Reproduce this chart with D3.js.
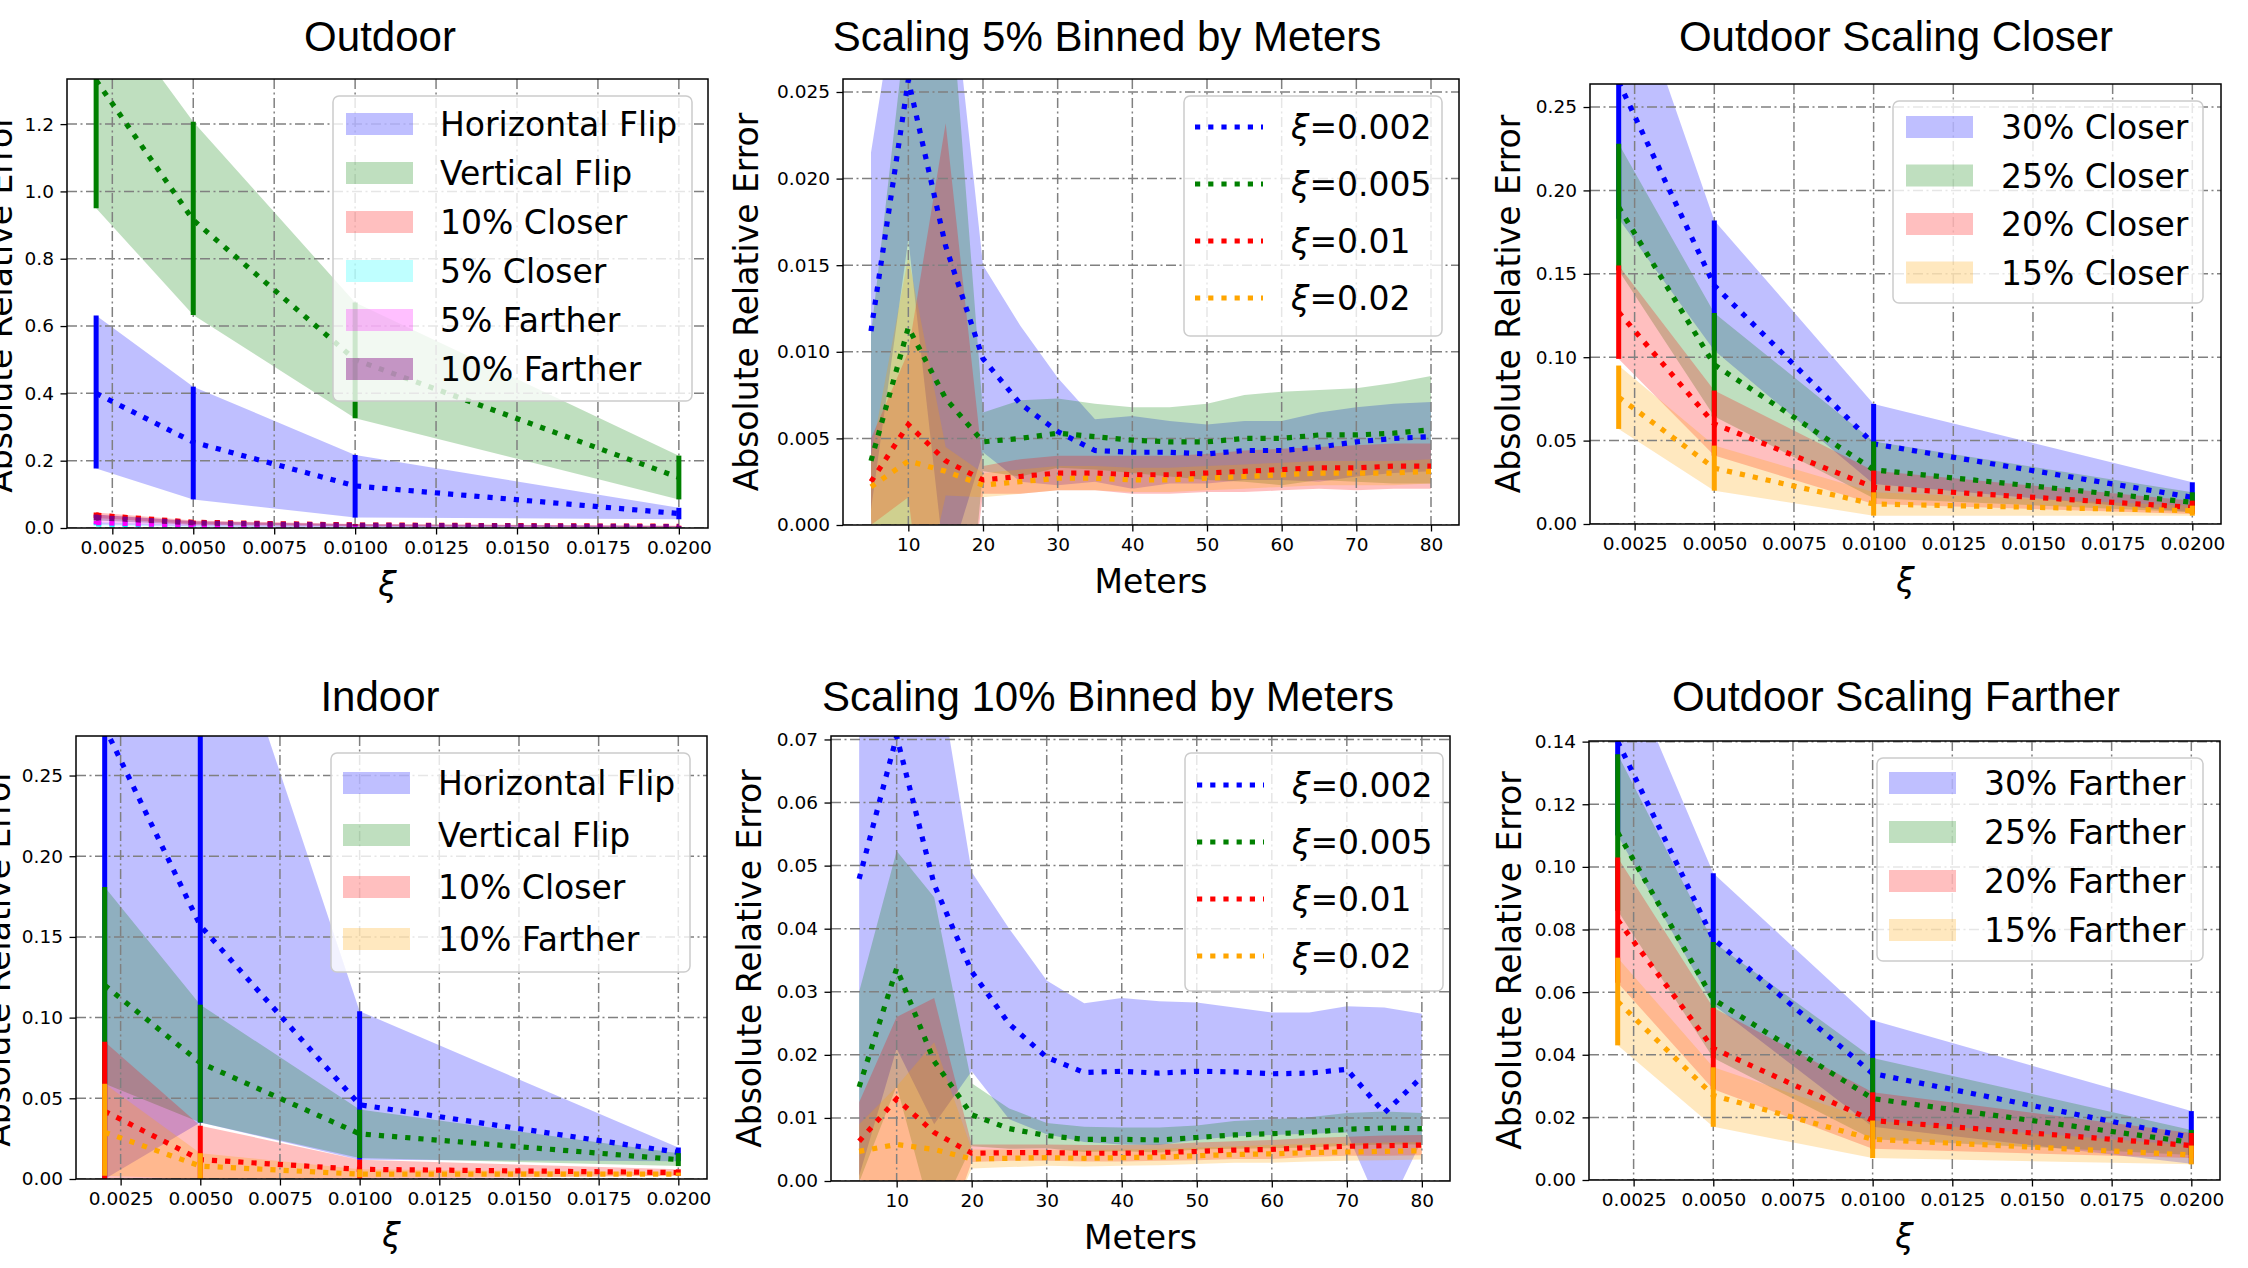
<!DOCTYPE html>
<html>
<head>
<meta charset="utf-8">
<script src="https://cdn.jsdelivr.net/npm/d3@7"></script>
<style>
  body { margin: 0; background: #fff; }
  svg { display: block; font-family: "DejaVu Sans", sans-serif; }
</style>
</head>
<body>
<svg id="chart" width="2248" height="1268"></svg>
<script>
// ---- data ----
const xiValues = [0.002, 0.005, 0.01, 0.02];
const xiTicks = [0.0025, 0.005, 0.0075, 0.01, 0.0125, 0.015, 0.0175, 0.02];
const meterBins = [5, 10, 15, 20, 25, 30, 35, 40, 45, 50, 55, 60, 65, 70, 75, 80];
const meterTicks = [10, 20, 30, 40, 50, 60, 70, 80];

const outdoorLabels = ["Horizontal Flip", "Vertical Flip", "10% Closer", "5% Closer", "5% Farther", "10% Farther"];
const outdoorMean = [
  [0.40, 0.255, 0.125, 0.043],
  [1.33, 0.915, 0.50, 0.15],
  [0.038, 0.017, 0.009, 0.005],
  [0.012, 0.007, 0.004, 0.002],
  [0.016, 0.008, 0.004, 0.002],
  [0.031, 0.015, 0.008, 0.004],
];
const outdoorLow = [
  [0.177, 0.085, 0.031, 0.026],
  [0.95, 0.633, 0.326, 0.085],
  [0.030, 0.012, 0.006, 0.003],
  [0.008, 0.004, 0.002, 0.001],
  [0.011, 0.005, 0.002, 0.001],
  [0.022, 0.010, 0.005, 0.002],
];
const outdoorHigh = [
  [0.631, 0.42, 0.217, 0.060],
  [1.60, 1.207, 0.67, 0.215],
  [0.046, 0.022, 0.012, 0.007],
  [0.016, 0.010, 0.006, 0.003],
  [0.021, 0.011, 0.006, 0.003],
  [0.040, 0.020, 0.011, 0.006],
];
const outdoorYTicks = [0, 0.2, 0.4, 0.6, 0.8, 1.0, 1.2];

const indoorLabels = ["Horizontal Flip", "Vertical Flip", "10% Closer", "10% Farther"];
const indoorMean = [
  [0.28, 0.157, 0.046, 0.0165],
  [0.12, 0.072, 0.028, 0.012],
  [0.042, 0.012, 0.006, 0.004],
  [0.029, 0.008, 0.003, 0.003],
];
const indoorLow = [
  [0.0, 0.035, 0.012, 0.011],
  [0.059, 0.035, 0.013, 0.008],
  [0.0, 0.0, 0.0, 0.002],
  [0.002, 0.0, 0.001, 0.002],
];
const indoorHigh = [
  [0.55, 0.40, 0.104, 0.0195],
  [0.181, 0.108, 0.043, 0.016],
  [0.085, 0.033, 0.012, 0.006],
  [0.059, 0.016, 0.006, 0.004],
];
const indoorYTicks = [0, 0.05, 0.10, 0.15, 0.20, 0.25];

const closerLabels = ["30% Closer", "25% Closer", "20% Closer", "15% Closer"];
const closerMean = [
  [0.265, 0.143, 0.048, 0.016],
  [0.19, 0.0955, 0.0325, 0.013],
  [0.127, 0.060, 0.022, 0.010],
  [0.076, 0.0335, 0.012, 0.008],
];
const closerLow = [
  [0.183, 0.104, 0.024, 0.007],
  [0.152, 0.0645, 0.0155, 0.007],
  [0.099, 0.041, 0.012, 0.006],
  [0.057, 0.020, 0.005, 0.005],
];
const closerHigh = [
  [0.347, 0.182, 0.072, 0.025],
  [0.228, 0.1265, 0.0495, 0.019],
  [0.155, 0.080, 0.032, 0.014],
  [0.095, 0.047, 0.019, 0.011],
];
const closerYTicks = [0, 0.05, 0.10, 0.15, 0.20, 0.25];

const fartherLabels = ["30% Farther", "25% Farther", "20% Farther", "15% Farther"];
const fartherMean = [
  [0.14, 0.077, 0.034, 0.0136],
  [0.111, 0.0577, 0.026, 0.012],
  [0.083, 0.042, 0.019, 0.011],
  [0.057, 0.027, 0.013, 0.008],
];
const fartherLow = [
  [0.11, 0.056, 0.017, 0.0052],
  [0.086, 0.039, 0.013, 0.008],
  [0.063, 0.029, 0.010, 0.007],
  [0.043, 0.017, 0.007, 0.005],
];
const fartherHigh = [
  [0.17, 0.098, 0.051, 0.022],
  [0.136, 0.076, 0.039, 0.016],
  [0.103, 0.055, 0.028, 0.015],
  [0.071, 0.036, 0.019, 0.011],
];
const fartherYTicks = [0, 0.02, 0.04, 0.06, 0.08, 0.10, 0.12, 0.14];

const binLabels = ["ξ=0.002", "ξ=0.005", "ξ=0.01", "ξ=0.02"];

const bin5Mean = [
  [0.0112, 0.0257, 0.0161, 0.0096, 0.0070, 0.0054, 0.0043, 0.0042, 0.0042, 0.0041, 0.0043, 0.0043, 0.0045, 0.0048, 0.0050, 0.0051],
  [0.0037, 0.0114, 0.0073, 0.0048, 0.0050, 0.0053, 0.0051, 0.0049, 0.0048, 0.0048, 0.0050, 0.0050, 0.0052, 0.0052, 0.0053, 0.0055],
  [0.0025, 0.0058, 0.0037, 0.0026, 0.0028, 0.0030, 0.0030, 0.0029, 0.0029, 0.0030, 0.0031, 0.0032, 0.0033, 0.0033, 0.0034, 0.0034],
  [0.0022, 0.0037, 0.0031, 0.0023, 0.0025, 0.0027, 0.0027, 0.0026, 0.0026, 0.0027, 0.0028, 0.0029, 0.0030, 0.0030, 0.0030, 0.0031],
];
const bin5Low = [
  [0.0009, 0.0165, -0.0028, 0.0042, 0.0025, 0.0023, 0.0025, 0.0021, 0.0024, 0.0024, 0.0026, 0.0026, 0.0025, 0.0028, 0.0030, 0.0031],
  [-0.0036, -0.0072, -0.0198, 0.0031, 0.0028, 0.0033, 0.0032, 0.0030, 0.0028, 0.0026, 0.0025, 0.0023, 0.0026, 0.0025, 0.0024, 0.0024],
  [0.0000, 0.0016, -0.0158, 0.0018, 0.0018, 0.0020, 0.0020, 0.0018, 0.0018, 0.0019, 0.0019, 0.0020, 0.0021, 0.0020, 0.0021, 0.0021],
  [0.0004, -0.0081, 0.0017, 0.0016, 0.0018, 0.0020, 0.0020, 0.0019, 0.0019, 0.0020, 0.0021, 0.0022, 0.0023, 0.0023, 0.0023, 0.0024],
];
const bin5High = [
  [0.0215, 0.0350, 0.0350, 0.0150, 0.0115, 0.0085, 0.0061, 0.0063, 0.0060, 0.0058, 0.0060, 0.0060, 0.0065, 0.0068, 0.0070, 0.0071],
  [0.0110, 0.0300, 0.0344, 0.0065, 0.0072, 0.0073, 0.0070, 0.0068, 0.0068, 0.0070, 0.0075, 0.0077, 0.0078, 0.0079, 0.0082, 0.0086],
  [0.0050, 0.0100, 0.0232, 0.0034, 0.0038, 0.0040, 0.0040, 0.0040, 0.0040, 0.0041, 0.0043, 0.0044, 0.0045, 0.0046, 0.0047, 0.0047],
  [0.0040, 0.0155, 0.0045, 0.0030, 0.0032, 0.0034, 0.0034, 0.0033, 0.0033, 0.0034, 0.0035, 0.0036, 0.0037, 0.0037, 0.0037, 0.0038],
];
const bin5YTicks = [0, 0.005, 0.010, 0.015, 0.020, 0.025];

const bin10Mean = [
  [0.0479, 0.0705, 0.0470, 0.0332, 0.0249, 0.0196, 0.0172, 0.0174, 0.0171, 0.0174, 0.0173, 0.0170, 0.0171, 0.0177, 0.0108, 0.0165],
  [0.0149, 0.0337, 0.0190, 0.0105, 0.0083, 0.0072, 0.0066, 0.0066, 0.0065, 0.0069, 0.0073, 0.0075, 0.0077, 0.0082, 0.0084, 0.0083],
  [0.0063, 0.0130, 0.0077, 0.0044, 0.0045, 0.0045, 0.0044, 0.0044, 0.0045, 0.0047, 0.0049, 0.0050, 0.0053, 0.0055, 0.0056, 0.0057],
  [0.0047, 0.0058, 0.0050, 0.0035, 0.0036, 0.0037, 0.0036, 0.0037, 0.0038, 0.0040, 0.0042, 0.0043, 0.0045, 0.0046, 0.0047, 0.0048],
];
const bin10Low = [
  [0.0008, 0.0210, 0.0090, 0.0174, 0.0098, 0.0074, 0.0062, 0.0058, 0.0057, 0.0065, 0.0071, 0.0073, 0.0075, 0.0077, -0.0059, 0.0065],
  [-0.0002, 0.0151, -0.0070, 0.0055, 0.0051, 0.0052, 0.0046, 0.0047, 0.0045, 0.0050, 0.0051, 0.0052, 0.0053, 0.0056, 0.0058, 0.0058],
  [0.0001, 0.0000, -0.0136, 0.0030, 0.0032, 0.0032, 0.0031, 0.0031, 0.0032, 0.0033, 0.0035, 0.0035, 0.0038, 0.0040, 0.0040, 0.0041],
  [0.0004, -0.0034, -0.0120, 0.0020, 0.0022, 0.0024, 0.0023, 0.0024, 0.0025, 0.0027, 0.0029, 0.0029, 0.0031, 0.0032, 0.0033, 0.0034],
];
const bin10High = [
  [0.0950, 0.1200, 0.0850, 0.0490, 0.0400, 0.0318, 0.0282, 0.0290, 0.0285, 0.0283, 0.0275, 0.0267, 0.0267, 0.0277, 0.0275, 0.0265],
  [0.0300, 0.0523, 0.0450, 0.0155, 0.0115, 0.0092, 0.0086, 0.0085, 0.0085, 0.0088, 0.0095, 0.0098, 0.0101, 0.0108, 0.0110, 0.0108],
  [0.0125, 0.0260, 0.0290, 0.0058, 0.0058, 0.0058, 0.0057, 0.0057, 0.0058, 0.0061, 0.0063, 0.0065, 0.0068, 0.0070, 0.0072, 0.0073],
  [0.0090, 0.0150, 0.0220, 0.0050, 0.0050, 0.0050, 0.0049, 0.0050, 0.0051, 0.0053, 0.0055, 0.0057, 0.0059, 0.0060, 0.0061, 0.0062],
];
const bin10YTicks = [0, 0.01, 0.02, 0.03, 0.04, 0.05, 0.06, 0.07];

// ---- layout ----
const fourColors = ["blue", "green", "red", "orange"];
const tickFont = 18.5;
const labelFont = 33;
const dotWidth = 5.2;
const dotDash = "5.2,8";

const panels = [
  {
    title: "Outdoor", titleX: 380, titleY: 51, kind: "xi",
    box: [67, 79, 708, 528], yMax: 1.334, yTicks: outdoorYTicks, yFmt: ".1f",
    labels: outdoorLabels, mean: outdoorMean, low: outdoorLow, high: outdoorHigh,
    colors: ["blue", "green", "red", "cyan", "magenta", "purple"], ylabOff: 55,
    legend: { x0: 333, y0: 96, x1: 692, y1: 401, row0: 28, dy: 49, hx: 346, hw: 67, tx: 440 },
  },
  {
    title: "Scaling 5% Binned by Meters", titleX: 1107, titleY: 51, kind: "m",
    box: [843, 79, 1459, 525], yMax: 0.02575, yTicks: bin5YTicks, yFmt: ".3f",
    labels: binLabels, mean: bin5Mean, low: bin5Low, high: bin5High,
    colors: fourColors, ylabOff: 85,
    legend: { x0: 1184, y0: 96, x1: 1442, y1: 336, row0: 31, dy: 57, hx: 1195, hw: 68, tx: 1291 },
  },
  {
    title: "Outdoor Scaling Closer", titleX: 1896, titleY: 51, kind: "xi",
    box: [1590, 84, 2221, 524], yMax: 0.2638, yTicks: closerYTicks, yFmt: ".2f",
    labels: closerLabels, mean: closerMean, low: closerLow, high: closerHigh,
    colors: fourColors, ylabOff: 70,
    legend: { x0: 1893, y0: 101, x1: 2203, y1: 303, row0: 26, dy: 48.5, hx: 1906, hw: 67, tx: 2001 },
  },
  {
    title: "Indoor", titleX: 380, titleY: 711, kind: "xi",
    box: [76, 736, 707, 1179], yMax: 0.2745, yTicks: indoorYTicks, yFmt: ".2f",
    labels: indoorLabels, mean: indoorMean, low: indoorLow, high: indoorHigh,
    colors: fourColors, ylabOff: 66,
    legend: { x0: 331, y0: 753, x1: 690, y1: 972, row0: 30, dy: 52, hx: 343, hw: 67, tx: 438 },
  },
  {
    title: "Scaling 10% Binned by Meters", titleX: 1108, titleY: 711, kind: "m",
    box: [831, 736, 1450, 1181], yMax: 0.07055, yTicks: bin10YTicks, yFmt: ".2f",
    labels: binLabels, mean: bin10Mean, low: bin10Low, high: bin10High,
    colors: fourColors, ylabOff: 70,
    legend: { x0: 1185, y0: 753, x1: 1443, y1: 991, row0: 32, dy: 57, hx: 1197, hw: 67, tx: 1292 },
  },
  {
    title: "Outdoor Scaling Farther", titleX: 1896, titleY: 711, kind: "xi",
    box: [1589, 741, 2220, 1180], yMax: 0.1402, yTicks: fartherYTicks, yFmt: ".2f",
    labels: fartherLabels, mean: fartherMean, low: fartherLow, high: fartherHigh,
    colors: fourColors, ylabOff: 68,
    legend: { x0: 1877, y0: 758, x1: 2203, y1: 961, row0: 25, dy: 49, hx: 1889, hw: 67, tx: 1984 },
  },
];

const svg = d3.select("#chart");

// label text with an italic xi where it appears
function writeLabel(sel, label) {
  const parts = label.split("ξ");
  parts.forEach((p, i) => {
    if (i > 0) sel.append("tspan").attr("font-style", "italic").text("ξ");
    if (p) sel.append("tspan").text(p);
  });
}

panels.forEach((p, pi) => {
  const [x0, y0, x1, y1] = p.box;
  const xs = p.kind === "xi" ? xiValues : meterBins;
  const xTicks = p.kind === "xi" ? xiTicks : meterTicks;

  const x = p.kind === "xi"
    ? d3.scaleLinear().domain([0.0011, 0.0209]).range([x0, x1])
    : d3.scaleLinear().domain([1.25, 83.75]).range([x0, x1]);
  const y = d3.scaleLinear().domain([0, p.yMax]).range([y1, y0]);

  const g = svg.append("g");

  svg.append("clipPath").attr("id", "clip" + pi)
    .append("rect").attr("x", x0).attr("y", y0).attr("width", x1 - x0).attr("height", y1 - y0);

  const plot = g.append("g").attr("clip-path", `url(#clip${pi})`);

  // bands
  p.mean.forEach((m, si) => {
    const area = d3.area()
      .x((d, i) => x(xs[i]))
      .y0((d, i) => y(p.low[si][i]))
      .y1((d, i) => y(p.high[si][i]));
    plot.append("path")
      .attr("d", area(m))
      .attr("fill", p.colors[si])
      .attr("fill-opacity", p.colors[si] === "purple" ? 0.4 : 0.25);
  });

  // grid
  xTicks.forEach((t) => {
    plot.append("line")
      .attr("x1", x(t)).attr("x2", x(t)).attr("y1", y0).attr("y2", y1)
      .attr("stroke", "#808080").attr("stroke-width", 1.5)
      .attr("stroke-dasharray", "10,3.5,2,3.5");
  });
  p.yTicks.forEach((t) => {
    plot.append("line")
      .attr("x1", x0).attr("x2", x1).attr("y1", y(t)).attr("y2", y(t))
      .attr("stroke", "#808080").attr("stroke-width", 1.5)
      .attr("stroke-dasharray", "10,3.5,2,3.5");
  });

  // mean lines and error bars
  p.mean.forEach((m, si) => {
    const line = d3.line().x((d, i) => x(xs[i])).y((d) => y(d));
    plot.append("path")
      .attr("d", line(m))
      .attr("fill", "none")
      .attr("stroke", p.colors[si])
      .attr("stroke-width", dotWidth)
      .attr("stroke-dasharray", dotDash);
    if (p.kind === "xi") {
      m.forEach((d, i) => {
        plot.append("line")
          .attr("x1", x(xs[i])).attr("x2", x(xs[i]))
          .attr("y1", y(p.low[si][i])).attr("y2", y(p.high[si][i]))
          .attr("stroke", p.colors[si]).attr("stroke-width", 5);
      });
    }
  });

  // frame
  g.append("rect")
    .attr("x", x0).attr("y", y0).attr("width", x1 - x0).attr("height", y1 - y0)
    .attr("fill", "none").attr("stroke", "#000").attr("stroke-width", 1.5);

  // axes
  const xFmt = p.kind === "xi" ? d3.format(".4f") : d3.format("d");
  const xAxis = g.append("g")
    .attr("transform", `translate(0,${y1})`)
    .call(d3.axisBottom(x).tickValues(xTicks).tickFormat(xFmt).tickSize(6.5).tickPadding(6.5));
  const yAxis = g.append("g")
    .attr("transform", `translate(${x0},0)`)
    .call(d3.axisLeft(y).tickValues(p.yTicks).tickFormat(d3.format(p.yFmt)).tickSize(6.5).tickPadding(6.5));
  [xAxis, yAxis].forEach((a) => {
    a.select(".domain").remove();
    a.attr("font-family", '"DejaVu Sans", sans-serif').attr("font-size", tickFont);
    a.selectAll("line").attr("stroke", "#000").attr("stroke-width", 1.3);
    a.selectAll("text").attr("fill", "#000");
  });

  // titles and axis labels
  g.append("text")
    .attr("x", p.titleX).attr("y", p.titleY)
    .attr("text-anchor", "middle")
    .attr("font-family", '"Liberation Sans", Arial, sans-serif')
    .attr("font-size", 42)
    .text(p.title);

  const xl = g.append("text")
    .attr("x", (x0 + x1) / 2).attr("y", y1 + 68)
    .attr("text-anchor", "middle")
    .attr("font-size", labelFont);
  if (p.kind === "xi") xl.attr("font-style", "italic").text("ξ");
  else xl.text("Meters");

  g.append("text")
    .attr("transform", `translate(${x0 - p.ylabOff},${(y0 + y1) / 2}) rotate(-90)`)
    .attr("text-anchor", "middle")
    .attr("font-size", labelFont)
    .text("Absolute Relative Error");

  // legend
  const L = p.legend;
  const lg = g.append("g");
  lg.append("rect")
    .attr("x", L.x0).attr("y", L.y0).attr("width", L.x1 - L.x0).attr("height", L.y1 - L.y0)
    .attr("rx", 6)
    .attr("fill", "#fff").attr("fill-opacity", 0.8)
    .attr("stroke", "#cccccc").attr("stroke-width", 1.5);
  p.labels.forEach((lab, si) => {
    const cy = L.y0 + L.row0 + si * L.dy;
    if (p.kind === "xi") {
      lg.append("rect")
        .attr("x", L.hx).attr("y", cy - 11).attr("width", L.hw).attr("height", 22)
        .attr("fill", p.colors[si])
        .attr("fill-opacity", p.colors[si] === "purple" ? 0.4 : 0.25);
    } else {
      lg.append("line")
        .attr("x1", L.hx).attr("x2", L.hx + L.hw).attr("y1", cy).attr("y2", cy)
        .attr("stroke", p.colors[si]).attr("stroke-width", dotWidth)
        .attr("stroke-dasharray", dotDash);
    }
    const t = lg.append("text")
      .attr("x", L.tx).attr("y", cy + 12)
      .attr("font-size", labelFont);
    writeLabel(t, lab);
  });
});
</script>
</body>
</html>
